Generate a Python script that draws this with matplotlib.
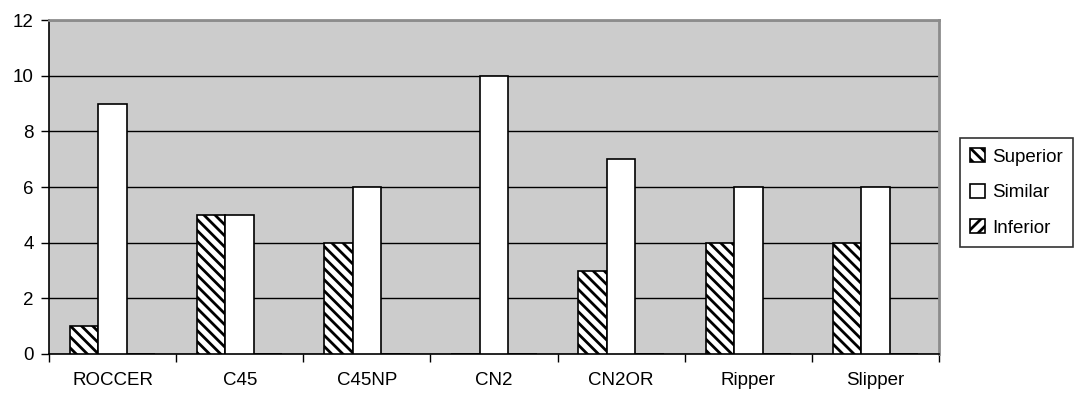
import matplotlib
matplotlib.use("Agg")
import matplotlib.pyplot as plt
import numpy as np

categories = ["ROCCER", "C45", "C45NP", "CN2", "CN2OR", "Ripper", "Slipper"]
superior = [1, 5, 4, 0, 3, 4, 4]
similar = [9, 5, 6, 10, 7, 6, 6]
inferior = [0, 0, 0, 0, 0, 0, 0]

plt.rcParams["font.family"] = ["Liberation Sans", "DejaVu Sans"]
plt.rcParams["hatch.linewidth"] = 2.0

fig = plt.figure(figsize=(10.74, 3.98), dpi=100)
ax = fig.add_axes([0.0456, 0.1106, 0.8287, 0.839])
ax.set_facecolor("#cccccc")

x = np.arange(len(categories))
w = 0.224
ax.bar(x - w, superior, w, color="white", edgecolor="black", hatch="\\\\\\", linewidth=1.2, label="Superior", zorder=3)
ax.bar(x, similar, w, color="white", edgecolor="black", linewidth=1.2, label="Similar", zorder=3)
ax.bar(x + w, inferior, w, color="white", edgecolor="black", hatch="///", linewidth=1.2, label="Inferior", zorder=3)

ax.set_xlim(-0.5, len(categories) - 0.5)
ax.set_ylim(0, 12)
ax.set_yticks(range(0, 13, 2))
ax.yaxis.grid(True, color="black", linewidth=1)
ax.set_axisbelow(True)

ax.set_xticks(x)
ax.set_xticklabels(categories, fontsize=13.5)
ax.tick_params(axis="x", which="major", length=0, pad=13)
ax.set_xticks(np.arange(-0.5, len(categories), 1), minor=True)
ax.tick_params(axis="x", which="minor", length=6, width=1, direction="out")
ax.tick_params(axis="y", length=6, width=1, labelsize=13.5, pad=5)

for side in ("left", "bottom"):
    ax.spines[side].set_color("black")
    ax.spines[side].set_linewidth(1.2)
for side in ("top", "right"):
    ax.spines[side].set_color("#8c8c8c")
    ax.spines[side].set_linewidth(2)

leg = fig.legend(loc="upper right", bbox_to_anchor=(0.9995, 0.654), frameon=True,
                 fancybox=False, edgecolor="black", fontsize=13.5,
                 handlelength=0.8, handleheight=0.8, handletextpad=0.4,
                 labelspacing=0.95, borderpad=0.55, borderaxespad=0)
leg.get_frame().set_linewidth(1.2)

fig.savefig("out.png", dpi=100)
